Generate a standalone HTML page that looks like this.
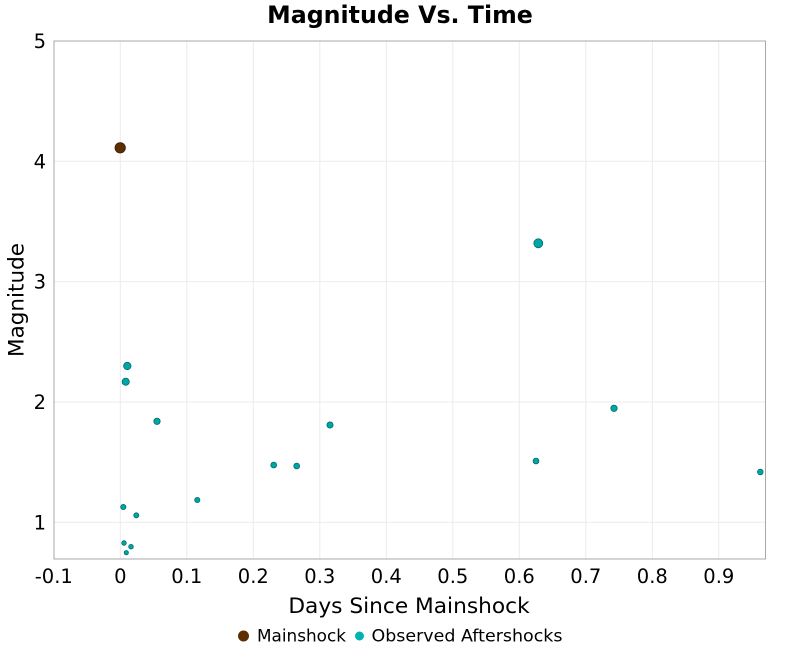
<!DOCTYPE html>
<html>
<head>
<meta charset="utf-8">
<style>
html,body{margin:0;padding:0;background:#fff;}
svg{display:block;font-family:"DejaVu Sans","Liberation Sans",sans-serif;}
</style>
</head>
<body>
<svg width="800" height="650" viewBox="0 0 800 650" xmlns="http://www.w3.org/2000/svg">
<rect x="0" y="0" width="800" height="650" fill="#fff"/>
<text x="400" y="23" text-anchor="middle" font-size="23.7" font-weight="bold" fill="#000">Magnitude Vs. Time</text>
<!-- grid -->
<g stroke="#ebebeb" stroke-width="1">
<line x1="120.3" y1="41" x2="120.3" y2="559"/>
<line x1="186.8" y1="41" x2="186.8" y2="559"/>
<line x1="253.3" y1="41" x2="253.3" y2="559"/>
<line x1="319.8" y1="41" x2="319.8" y2="559"/>
<line x1="386.3" y1="41" x2="386.3" y2="559"/>
<line x1="452.8" y1="41" x2="452.8" y2="559"/>
<line x1="519.3" y1="41" x2="519.3" y2="559"/>
<line x1="585.8" y1="41" x2="585.8" y2="559"/>
<line x1="652.3" y1="41" x2="652.3" y2="559"/>
<line x1="718.8" y1="41" x2="718.8" y2="559"/>
<line x1="54" y1="161.3" x2="765" y2="161.3"/>
<line x1="54" y1="281.6" x2="765" y2="281.6"/>
<line x1="54" y1="402" x2="765" y2="402"/>
<line x1="54" y1="522.3" x2="765" y2="522.3"/>
</g>
<rect x="54" y="41" width="711.5" height="518" fill="none" stroke="#a8a8a8" stroke-width="1"/>
<!-- y ticks -->
<g font-size="19.5" fill="#000" text-anchor="end">
<text x="46" y="48">5</text>
<text x="46" y="168.3">4</text>
<text x="46" y="288.6">3</text>
<text x="46" y="409">2</text>
<text x="46" y="529.3">1</text>
</g>
<!-- x ticks -->
<g font-size="19.5" fill="#000" text-anchor="middle">
<text x="53.8" y="583">-0.1</text>
<text x="120.3" y="583">0</text>
<text x="186.8" y="583">0.1</text>
<text x="253.3" y="583">0.2</text>
<text x="319.8" y="583">0.3</text>
<text x="386.3" y="583">0.4</text>
<text x="452.8" y="583">0.5</text>
<text x="519.3" y="583">0.6</text>
<text x="585.8" y="583">0.7</text>
<text x="652.3" y="583">0.8</text>
<text x="718.8" y="583">0.9</text>
</g>
<text x="409" y="613" text-anchor="middle" font-size="21.7" fill="#000">Days Since Mainshock</text>
<text transform="translate(23.5,300) rotate(-90)" text-anchor="middle" font-size="21.5" fill="#000">Magnitude</text>
<!-- aftershocks -->
<g fill="#00a6a6" stroke="#006b6b" stroke-width="0.8">
<circle cx="538.3" cy="243.3" r="4.5"/>
<circle cx="127.3" cy="366" r="3.7"/>
<circle cx="125.7" cy="381.7" r="3.6"/>
<circle cx="157" cy="421.3" r="3.2"/>
<circle cx="330" cy="425" r="3.1"/>
<circle cx="614" cy="408.3" r="3.2"/>
<circle cx="273.7" cy="465" r="2.9"/>
<circle cx="296.7" cy="466" r="2.9"/>
<circle cx="536" cy="461" r="2.9"/>
<circle cx="760.3" cy="472" r="2.8"/>
<circle cx="197.3" cy="500" r="2.6"/>
<circle cx="123.3" cy="507" r="2.6"/>
<circle cx="136.3" cy="515.3" r="2.5"/>
<circle cx="124" cy="543" r="2.3"/>
<circle cx="131" cy="546.7" r="2.3"/>
<circle cx="126.3" cy="552.7" r="2.1"/>
</g>
<!-- mainshock -->
<circle cx="120.2" cy="147.8" r="5.2" fill="#5c2e00" stroke="#3a1c00" stroke-width="0.8"/>
<!-- legend -->
<circle cx="243.5" cy="636" r="5.5" fill="#5c2e00"/>
<text x="257" y="641.5" font-size="17" fill="#000" textLength="89" lengthAdjust="spacingAndGlyphs">Mainshock</text>
<circle cx="359.5" cy="636" r="4.5" fill="#00b3b3"/>
<text x="371.5" y="641.5" font-size="17" fill="#000" textLength="191" lengthAdjust="spacingAndGlyphs">Observed Aftershocks</text>
</svg>
</body>
</html>
